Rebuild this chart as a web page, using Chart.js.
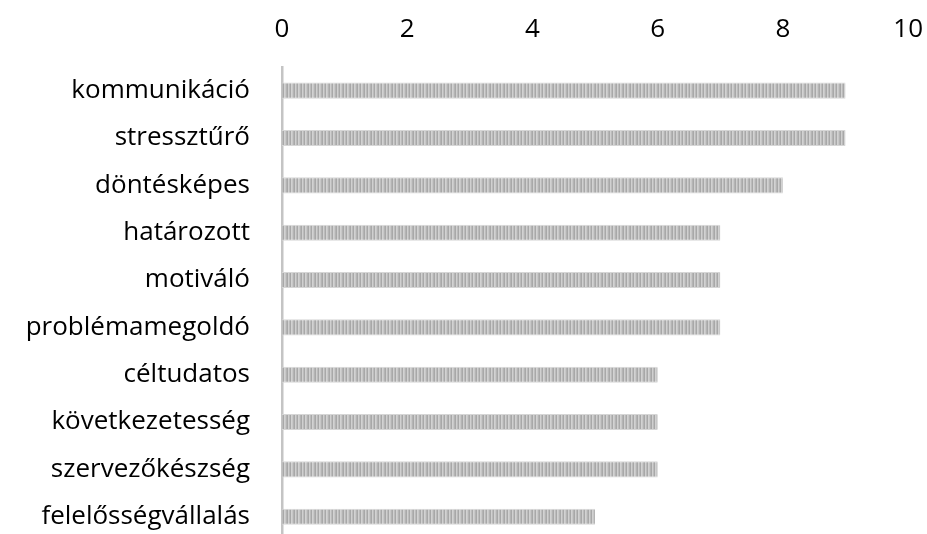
<!DOCTYPE html>
<html>
<head>
<meta charset="utf-8">
<script src="https://cdn.jsdelivr.net/npm/chart.js@4/dist/chart.umd.min.js"></script>
<style>
  html, body { margin: 0; padding: 0; background: #fff; overflow: hidden; }
  #c { display: block; width: 945px; height: 588px; }
</style>
</head>
<body>
<canvas id="c" width="945" height="588"></canvas>
<script>
// Skills and how many times each was mentioned
const categories = [
  'kommunikáció', 'stressztűrő', 'döntésképes', 'határozott', 'motiváló',
  'problémamegoldó', 'céltudatos', 'következetesség', 'szervezőkészség', 'felelősségvállalás'
];
const counts = [9, 9, 8, 7, 7, 7, 6, 6, 6, 5];
const axisMin = 0;
const axisMax = 10;
const axisStep = 2;

// Fine vertical hatching used as the bar fill
function stripePattern() {
  const p = document.createElement('canvas');
  const cols = ['#a8a8a8', '#d0d0d0', '#bcbcbc', '#a8a8a8', '#d2d2d2', '#c8c8c8', '#b4b4b4'];
  p.width = cols.length; p.height = 1;
  const g = p.getContext('2d');
  cols.forEach((c, i) => { g.fillStyle = c; g.fillRect(i, 0, 1, 1); });
  return document.getElementById('c').getContext('2d').createPattern(p, 'repeat');
}

const font = { family: "'Open Sans', 'Lato', sans-serif", size: 26 };

new Chart(document.getElementById('c'), {
  type: 'bar',
  data: {
    labels: categories,
    datasets: [{
      data: counts,
      backgroundColor: stripePattern(),
      borderColor: '#d6d6d6',
      borderWidth: { top: 1, bottom: 1, left: 0, right: 0 },
      borderSkipped: false,
      barPercentage: 0.34,
      categoryPercentage: 1
    }]
  },
  options: {
    indexAxis: 'y',
    responsive: false,
    maintainAspectRatio: false,
    animation: false,
    layout: { autoPadding: false, padding: { left: 0, right: 0, top: 0, bottom: 8 } },
    plugins: { legend: { display: false }, tooltip: { enabled: false } },
    scales: {
      x: {
        position: 'top',
        min: axisMin,
        max: axisMax,
        grid: { display: false, drawTicks: false },
        border: { display: false },
        ticks: { stepSize: axisStep, color: '#000', font: font, padding: 22 },
        afterFit: s => { s.height = 67; }
      },
      y: {
        grid: { display: false, drawTicks: false },
        border: { display: true, color: '#c4c4c4', width: 2.5 },
        ticks: { color: '#000', font: font, padding: 32 },
        afterFit: s => { s.width = 282; }
      }
    }
  }
});
</script>
</body>
</html>
